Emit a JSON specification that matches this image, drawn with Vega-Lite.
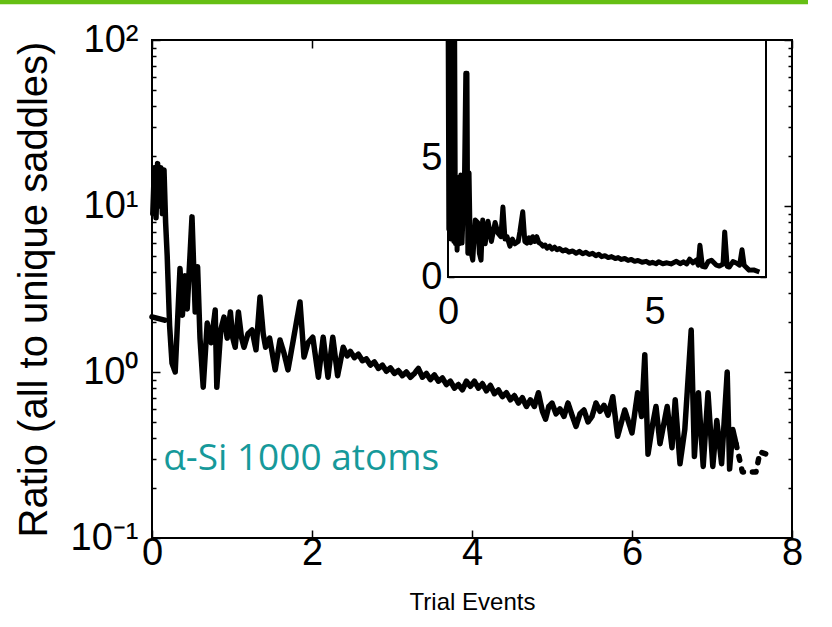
{
  "$schema": "https://vega.github.io/schema/vega-lite/v6.json",
  "width": 640,
  "height": 498,
  "autosize": {"type": "none"},
  "padding": {"left": 152, "top": 40, "right": 40, "bottom": 89},
  "background": "white",
  "config": {
    "view": {"stroke": "black", "strokeWidth": 2},
    "font": "Liberation Sans",
    "axis": {"grid": false, "labelColor": "black", "tickColor": "black", "titleColor": "black", "titleFontWeight": "normal", "domain": false, "labelFont": "Liberation Sans", "titleFont": "Liberation Sans"}
  },
  "datasets": {
    "main": [
      {"series": "stub", "x": 0.0, "y": 2.15},
      {"series": "stub", "x": 0.16, "y": 2.05},
      {"series": "main", "x": 0.01, "y": 9},
      {"series": "main", "x": 0.03, "y": 17},
      {"series": "main", "x": 0.05, "y": 8.5},
      {"series": "main", "x": 0.07, "y": 18},
      {"series": "main", "x": 0.09, "y": 10},
      {"series": "main", "x": 0.11, "y": 17},
      {"series": "main", "x": 0.13, "y": 9},
      {"series": "main", "x": 0.15, "y": 16.5},
      {"series": "main", "x": 0.17, "y": 8},
      {"series": "main", "x": 0.19, "y": 5},
      {"series": "main", "x": 0.22, "y": 1.9},
      {"series": "main", "x": 0.25, "y": 1.13},
      {"series": "main", "x": 0.29, "y": 1.0},
      {"series": "main", "x": 0.35, "y": 4.2},
      {"series": "main", "x": 0.38, "y": 2.2},
      {"series": "main", "x": 0.41, "y": 3.8},
      {"series": "main", "x": 0.44, "y": 2.4},
      {"series": "main", "x": 0.5, "y": 8.6},
      {"series": "main", "x": 0.54, "y": 2.3},
      {"series": "main", "x": 0.57, "y": 4.3},
      {"series": "main", "x": 0.6, "y": 1.6},
      {"series": "main", "x": 0.64, "y": 0.81},
      {"series": "main", "x": 0.69, "y": 1.97},
      {"series": "main", "x": 0.74, "y": 1.5},
      {"series": "main", "x": 0.79, "y": 2.36},
      {"series": "main", "x": 0.81, "y": 0.81},
      {"series": "main", "x": 0.86, "y": 1.8},
      {"series": "main", "x": 0.9, "y": 2.14},
      {"series": "main", "x": 0.94, "y": 1.6},
      {"series": "main", "x": 0.98, "y": 2.3},
      {"series": "main", "x": 1.01, "y": 1.6},
      {"series": "main", "x": 1.04, "y": 1.41},
      {"series": "main", "x": 1.08, "y": 2.3},
      {"series": "main", "x": 1.12, "y": 1.6},
      {"series": "main", "x": 1.15, "y": 1.41},
      {"series": "main", "x": 1.2, "y": 1.7},
      {"series": "main", "x": 1.25, "y": 1.79},
      {"series": "main", "x": 1.3, "y": 1.36},
      {"series": "main", "x": 1.35, "y": 2.83},
      {"series": "main", "x": 1.39, "y": 1.7},
      {"series": "main", "x": 1.42, "y": 1.41},
      {"series": "main", "x": 1.47, "y": 1.6},
      {"series": "main", "x": 1.54, "y": 1.03},
      {"series": "main", "x": 1.6, "y": 1.56},
      {"series": "main", "x": 1.65, "y": 1.3},
      {"series": "main", "x": 1.7, "y": 1.03},
      {"series": "main", "x": 1.76, "y": 1.5},
      {"series": "main", "x": 1.85, "y": 2.64},
      {"series": "main", "x": 1.9, "y": 1.23},
      {"series": "main", "x": 1.95, "y": 1.5},
      {"series": "main", "x": 2.01, "y": 1.62},
      {"series": "main", "x": 2.08, "y": 0.93},
      {"series": "main", "x": 2.14, "y": 1.62},
      {"series": "main", "x": 2.2, "y": 0.93},
      {"series": "main", "x": 2.26, "y": 1.62},
      {"series": "main", "x": 2.32, "y": 0.95},
      {"series": "main", "x": 2.39, "y": 1.41},
      {"series": "main", "x": 2.44, "y": 1.25},
      {"series": "main", "x": 2.48, "y": 1.33},
      {"series": "main", "x": 2.53, "y": 1.22},
      {"series": "main", "x": 2.58, "y": 1.28},
      {"series": "main", "x": 2.63, "y": 1.17},
      {"series": "main", "x": 2.68, "y": 1.2},
      {"series": "main", "x": 2.73, "y": 1.1},
      {"series": "main", "x": 2.78, "y": 1.15},
      {"series": "main", "x": 2.83, "y": 1.05},
      {"series": "main", "x": 2.88, "y": 1.1},
      {"series": "main", "x": 2.93, "y": 1.01},
      {"series": "main", "x": 2.98, "y": 1.06},
      {"series": "main", "x": 3.03, "y": 0.98},
      {"series": "main", "x": 3.08, "y": 1.02},
      {"series": "main", "x": 3.13, "y": 0.95},
      {"series": "main", "x": 3.18, "y": 1.0},
      {"series": "main", "x": 3.23, "y": 0.93},
      {"series": "main", "x": 3.28, "y": 0.98},
      {"series": "main", "x": 3.33, "y": 1.05},
      {"series": "main", "x": 3.38, "y": 0.93},
      {"series": "main", "x": 3.43, "y": 0.98},
      {"series": "main", "x": 3.48, "y": 0.9},
      {"series": "main", "x": 3.53, "y": 0.96},
      {"series": "main", "x": 3.58, "y": 0.88},
      {"series": "main", "x": 3.63, "y": 0.92},
      {"series": "main", "x": 3.68, "y": 0.84},
      {"series": "main", "x": 3.73, "y": 0.88},
      {"series": "main", "x": 3.78, "y": 0.8},
      {"series": "main", "x": 3.83, "y": 0.84},
      {"series": "main", "x": 3.88, "y": 0.78},
      {"series": "main", "x": 3.93, "y": 0.88},
      {"series": "main", "x": 3.98, "y": 0.82},
      {"series": "main", "x": 4.03, "y": 0.88},
      {"series": "main", "x": 4.08, "y": 0.8},
      {"series": "main", "x": 4.13, "y": 0.85},
      {"series": "main", "x": 4.18, "y": 0.77},
      {"series": "main", "x": 4.23, "y": 0.83},
      {"series": "main", "x": 4.28, "y": 0.74},
      {"series": "main", "x": 4.33, "y": 0.78},
      {"series": "main", "x": 4.38, "y": 0.71},
      {"series": "main", "x": 4.43, "y": 0.75},
      {"series": "main", "x": 4.48, "y": 0.68},
      {"series": "main", "x": 4.53, "y": 0.72},
      {"series": "main", "x": 4.58, "y": 0.65},
      {"series": "main", "x": 4.63, "y": 0.7},
      {"series": "main", "x": 4.68, "y": 0.62},
      {"series": "main", "x": 4.73, "y": 0.68},
      {"series": "main", "x": 4.78, "y": 0.62},
      {"series": "main", "x": 4.83, "y": 0.75},
      {"series": "main", "x": 4.88, "y": 0.58},
      {"series": "main", "x": 4.92, "y": 0.52},
      {"series": "main", "x": 4.96, "y": 0.62},
      {"series": "main", "x": 5.0, "y": 0.65},
      {"series": "main", "x": 5.05, "y": 0.56},
      {"series": "main", "x": 5.1, "y": 0.6},
      {"series": "main", "x": 5.15, "y": 0.54},
      {"series": "main", "x": 5.2, "y": 0.65},
      {"series": "main", "x": 5.25, "y": 0.55},
      {"series": "main", "x": 5.3, "y": 0.47},
      {"series": "main", "x": 5.35, "y": 0.56},
      {"series": "main", "x": 5.4, "y": 0.59},
      {"series": "main", "x": 5.45, "y": 0.5},
      {"series": "main", "x": 5.5, "y": 0.54},
      {"series": "main", "x": 5.55, "y": 0.65},
      {"series": "main", "x": 5.6, "y": 0.58},
      {"series": "main", "x": 5.65, "y": 0.63},
      {"series": "main", "x": 5.7, "y": 0.55},
      {"series": "main", "x": 5.76, "y": 0.71},
      {"series": "main", "x": 5.82, "y": 0.41},
      {"series": "main", "x": 5.91, "y": 0.59},
      {"series": "main", "x": 6.0, "y": 0.43},
      {"series": "main", "x": 6.07, "y": 0.75},
      {"series": "main", "x": 6.12, "y": 0.54},
      {"series": "main", "x": 6.16, "y": 1.27},
      {"series": "main", "x": 6.2, "y": 0.32},
      {"series": "main", "x": 6.26, "y": 0.49},
      {"series": "main", "x": 6.3, "y": 0.62},
      {"series": "main", "x": 6.35, "y": 0.37},
      {"series": "main", "x": 6.44, "y": 0.62},
      {"series": "main", "x": 6.5, "y": 0.35},
      {"series": "main", "x": 6.54, "y": 0.68},
      {"series": "main", "x": 6.6, "y": 0.28},
      {"series": "main", "x": 6.66, "y": 0.45},
      {"series": "main", "x": 6.74, "y": 1.79},
      {"series": "main", "x": 6.78, "y": 0.31},
      {"series": "main", "x": 6.83, "y": 0.75},
      {"series": "main", "x": 6.89, "y": 0.27},
      {"series": "main", "x": 6.95, "y": 0.75},
      {"series": "main", "x": 7.01, "y": 0.27},
      {"series": "main", "x": 7.06, "y": 0.51},
      {"series": "main", "x": 7.12, "y": 0.28},
      {"series": "main", "x": 7.19, "y": 1.0},
      {"series": "main", "x": 7.22, "y": 0.26},
      {"series": "main", "x": 7.26, "y": 0.45},
      {"series": "main", "x": 7.3, "y": 0.37},
      {"series": "tail", "x": 7.3, "y": 0.37},
      {"series": "tail", "x": 7.38, "y": 0.25},
      {"series": "tail", "x": 7.55, "y": 0.25},
      {"series": "tail", "x": 7.6, "y": 0.33},
      {"series": "tail", "x": 7.76, "y": 0.31}
    ],
    "inset": [
      {"x": 0.0, "y": 12}, {"x": 0.02, "y": 2.0}, {"x": 0.04, "y": 12}, {"x": 0.06, "y": 1.6},
      {"x": 0.08, "y": 12}, {"x": 0.1, "y": 1.7}, {"x": 0.12, "y": 12}, {"x": 0.14, "y": 1.5},
      {"x": 0.16, "y": 11}, {"x": 0.18, "y": 1.4}, {"x": 0.2, "y": 3.5}, {"x": 0.22, "y": 1.13},
      {"x": 0.25, "y": 4.2}, {"x": 0.28, "y": 1.4}, {"x": 0.31, "y": 4.3}, {"x": 0.34, "y": 1.43},
      {"x": 0.4, "y": 4.4}, {"x": 0.43, "y": 8.6}, {"x": 0.46, "y": 8.6}, {"x": 0.48, "y": 1.0},
      {"x": 0.51, "y": 4.4}, {"x": 0.54, "y": 1.2},
      {"x": 0.6, "y": 0.71}, {"x": 0.66, "y": 2.4},
      {"x": 0.72, "y": 2.3}, {"x": 0.76, "y": 1.0}, {"x": 0.8, "y": 0.71}, {"x": 0.84, "y": 2.4}, {"x": 0.9, "y": 1.4},
      {"x": 0.97, "y": 2.35}, {"x": 1.05, "y": 1.5}, {"x": 1.14, "y": 2.3}, {"x": 1.21, "y": 1.85},
      {"x": 1.28, "y": 1.7}, {"x": 1.33, "y": 2.95}, {"x": 1.38, "y": 1.6}, {"x": 1.43, "y": 1.7},
      {"x": 1.5, "y": 1.3}, {"x": 1.56, "y": 1.6}, {"x": 1.62, "y": 1.4}, {"x": 1.7, "y": 1.5}, {"x": 1.74, "y": 1.9},
      {"x": 1.81, "y": 2.75}, {"x": 1.86, "y": 1.5}, {"x": 1.91, "y": 1.43}, {"x": 1.96, "y": 1.65}, {"x": 2.0, "y": 1.45},
      {"x": 2.05, "y": 1.7}, {"x": 2.1, "y": 1.5}, {"x": 2.15, "y": 1.7}, {"x": 2.2, "y": 1.45}, {"x": 2.25, "y": 1.4}, {"x": 2.3, "y": 1.3}, {"x": 2.35, "y": 1.35},
      {"x": 2.4, "y": 1.22}, {"x": 2.46, "y": 1.3}, {"x": 2.52, "y": 1.18}, {"x": 2.58, "y": 1.26}, {"x": 2.64, "y": 1.15}, {"x": 2.7, "y": 1.2}, {"x": 2.78, "y": 1.1}, {"x": 2.85, "y": 1.15},
      {"x": 2.93, "y": 1.05}, {"x": 3.02, "y": 1.1}, {"x": 3.1, "y": 1.0}, {"x": 3.18, "y": 1.08}, {"x": 3.26, "y": 0.98}, {"x": 3.34, "y": 1.04}, {"x": 3.42, "y": 0.95}, {"x": 3.5, "y": 1.0},
      {"x": 3.58, "y": 0.9}, {"x": 3.65, "y": 0.96}, {"x": 3.72, "y": 0.86}, {"x": 3.8, "y": 0.9}, {"x": 3.88, "y": 0.82}, {"x": 3.96, "y": 0.86}, {"x": 4.05, "y": 0.78},
      {"x": 4.12, "y": 0.82}, {"x": 4.2, "y": 0.74}, {"x": 4.28, "y": 0.78}, {"x": 4.36, "y": 0.7}, {"x": 4.44, "y": 0.74}, {"x": 4.52, "y": 0.66}, {"x": 4.6, "y": 0.7},
      {"x": 4.7, "y": 0.62}, {"x": 4.8, "y": 0.66}, {"x": 4.88, "y": 0.58}, {"x": 4.95, "y": 0.62}, {"x": 5.04, "y": 0.56}, {"x": 5.1, "y": 0.64}, {"x": 5.2, "y": 0.56}, {"x": 5.3, "y": 0.6},
      {"x": 5.4, "y": 0.55}, {"x": 5.53, "y": 0.66}, {"x": 5.62, "y": 0.56},
      {"x": 5.7, "y": 0.64}, {"x": 5.78, "y": 0.55}, {"x": 5.85, "y": 0.75}, {"x": 5.93, "y": 0.6}, {"x": 6.01, "y": 0.71}, {"x": 6.06, "y": 0.5},
      {"x": 6.1, "y": 1.34}, {"x": 6.16, "y": 0.45}, {"x": 6.23, "y": 0.42}, {"x": 6.3, "y": 0.65},
      {"x": 6.38, "y": 0.71}, {"x": 6.5, "y": 0.5}, {"x": 6.57, "y": 0.46}, {"x": 6.66, "y": 0.55},
      {"x": 6.7, "y": 1.9}, {"x": 6.76, "y": 0.45}, {"x": 6.81, "y": 0.42}, {"x": 6.9, "y": 0.65},
      {"x": 6.98, "y": 0.59}, {"x": 7.06, "y": 0.5}, {"x": 7.12, "y": 1.15}, {"x": 7.17, "y": 0.5},
      {"x": 7.29, "y": 0.29}, {"x": 7.4, "y": 0.3}, {"x": 7.54, "y": 0.21}
    ],
    "note": [{"x": 0.14, "y": 0.3, "text": "α-Si 1000 atoms"}]
  },
  "layer": [
    {
      "layer": [
        {
          "data": {"name": "main"},
          "mark": {"type": "line", "color": "black", "strokeWidth": 5.5, "strokeJoin": "round", "strokeCap": "round"},
          "encoding": {
            "x": {"field": "x", "type": "quantitative", "scale": {"domain": [0, 8], "nice": false, "zero": false},
              "axis": {"orient": "bottom", "values": [0, 2, 4, 6, 8], "format": "d", "labelFontSize": 38, "tickSize": -8, "tickWidth": 1.5, "labelPadding": 4, "labelFlush": false, "title": "Trial Events", "titleFontSize": 24, "titlePadding": 18}},
            "y": {"field": "y", "type": "quantitative", "scale": {"type": "log", "domain": [0.1, 100], "nice": false},
              "axis": {"orient": "left", "values": [0.1, 0.2, 0.3, 0.4, 0.5, 0.6, 0.7, 0.8, 0.9, 1, 2, 3, 4, 5, 6, 7, 8, 9, 10, 20, 30, 40, 50, 60, 70, 80, 90, 100],
                "labelExpr": "datum.value == 100 ? '10²' : datum.value == 10 ? '10¹' : datum.value == 1 ? '10⁰' : datum.value == 0.1 ? '10⁻¹' : ''",
                "labelFontSize": 38, "labelPadding": 22, "labelFlush": false, "labelOverlap": false,
                "tickSize": {"condition": {"test": "datum.value == 0.1 || datum.value == 1 || datum.value == 10 || datum.value == 100", "value": -8}, "value": -4},
                "tickWidth": 1.5,
                "title": "Ratio (all to unique saddles)", "titleFontSize": 40, "titlePadding": 16}},
            "strokeDash": {"field": "series", "type": "nominal", "scale": {"domain": ["main", "stub", "tail"], "range": [[1, 0], [1, 0], [4, 9]]}, "legend": null}
          }
        },
        {
          "data": {"name": "note"},
          "mark": {"type": "text", "align": "left", "baseline": "middle", "font": "Open Sans", "fontSize": 37, "color": "#16999a"},
          "encoding": {
            "x": {"field": "x", "type": "quantitative", "axis": {"orient": "top", "values": [0, 2, 4, 6, 8], "labels": false, "tickSize": -8, "tickWidth": 1.5, "title": null}},
            "y": {"field": "y", "type": "quantitative", "axis": {"orient": "right", "values": [0.1, 0.2, 0.3, 0.4, 0.5, 0.6, 0.7, 0.8, 0.9, 1, 2, 3, 4, 5, 6, 7, 8, 9, 10, 20, 30, 40, 50, 60, 70, 80, 90, 100], "labels": false,
              "tickSize": {"condition": {"test": "datum.value == 0.1 || datum.value == 1 || datum.value == 10 || datum.value == 100", "value": -8}, "value": -4},
              "tickWidth": 1.5, "title": null}},
            "text": {"field": "text"}
          }
        },
        {
          "data": {"values": [{}]},
          "mark": {"type": "rule", "color": "#66bf14", "strokeWidth": 5, "clip": false},
          "encoding": {
            "x": {"datum": -1.9, "type": "quantitative", "axis": null},
            "x2": {"datum": 8.2},
            "y": {"datum": 170, "type": "quantitative", "axis": null}
          }
        }
      ],
      "resolve": {"axis": {"x": "independent", "y": "independent"}}
    },
    {
      "layer": [
        {
          "data": {"values": [{}]},
          "mark": {"type": "rect", "fill": "white", "stroke": "black", "strokeWidth": 2},
          "encoding": {
            "x": {"datum": 0, "type": "quantitative", "scale": {"domain": [0, 7.7], "range": [296, 614], "nice": false, "zero": false},
              "axis": {"orient": "top", "offset": 0, "values": [0, 5], "labels": false, "tickSize": -6, "tickWidth": 1.5, "title": null}},
            "x2": {"datum": 7.7},
            "y": {"datum": 0, "type": "quantitative", "scale": {"domain": [0, 10], "range": [237, 0], "nice": false},
              "axis": {"orient": "right", "offset": -26, "values": [0, 5, 10], "labels": false, "tickSize": -6, "tickWidth": 1.5, "title": null}},
            "y2": {"datum": 10}
          }
        },
        {
          "data": {"name": "inset"},
          "mark": {"type": "line", "color": "black", "strokeWidth": 5, "strokeJoin": "round", "clip": true},
          "encoding": {
            "x": {"field": "x", "type": "quantitative",
              "axis": {"orient": "bottom", "offset": -261, "values": [0, 5], "labelFontSize": 38, "labelPadding": 22, "labelFlush": false, "tickSize": -6, "tickWidth": 1.5, "title": null}},
            "y": {"field": "y", "type": "quantitative",
              "axis": {"orient": "left", "offset": -296, "values": [0, 5], "labelFontSize": 38, "labelPadding": 12, "labelFlush": false, "tickSize": -6, "tickWidth": 1.5, "title": null}}
          }
        }
      ],
      "resolve": {"axis": {"x": "independent", "y": "independent"}}
    }
  ],
  "resolve": {"scale": {"x": "independent", "y": "independent"}, "axis": {"x": "independent", "y": "independent"}}
}
